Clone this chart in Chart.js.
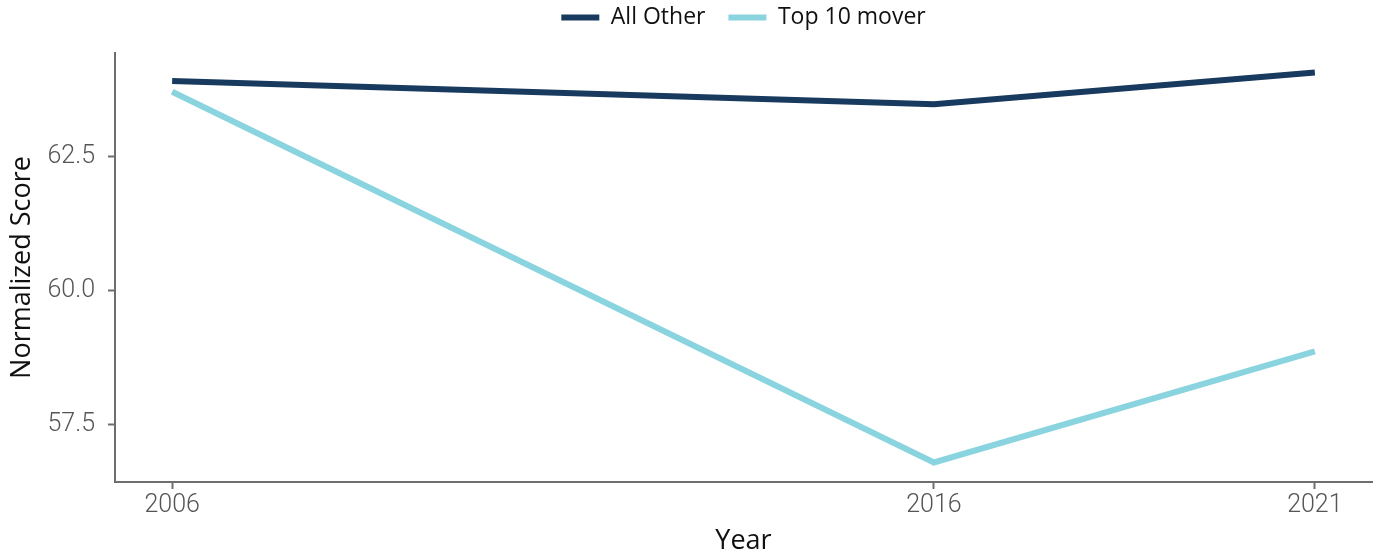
<!DOCTYPE html>
<html>
<head>
<meta charset="utf-8">
<script src="https://cdn.jsdelivr.net/npm/chart.js@4"></script>
<style>
  html, body { margin: 0; padding: 0; background: #ffffff; }
  #wrap { width: 1380px; height: 558px; position: relative; }
</style>
</head>
<body>
<div id="wrap"><canvas id="c" width="1380" height="558"></canvas></div>
<script>
// ---- data ----
const years = [2006, 2016, 2021];
const allOther = [63.91, 63.48, 64.07];
const top10Mover = [63.71, 56.80, 58.87];
const seriesNames = ["All Other", "Top 10 mover"];
const seriesColors = ["#173a5e", "#8ad4df"];
const xTickValues = [2006, 2016, 2021];
const yTickValues = [57.5, 60.0, 62.5];
const xTitle = "Year";
const yTitle = "Normalized Score";

// ggplot-style 5% expansion of the data range
const allY = allOther.concat(top10Mover);
const yLo = Math.min(...allY), yHi = Math.max(...allY);
const yPad = (yHi - yLo) * 0.05;
const xLo = Math.min(...years), xHi = Math.max(...years);
const xPad = (xHi - xLo) * 0.05;

const axisGrey = "#6e6e6e";
const tickFont = { family: "Roboto", size: 25, weight: "300" };
const titleFont = { family: "'Open Sans'", size: 27 };

const layoutPlugin = {
  id: "fixLayout",
  afterInit(chart) {
    const lg = chart.legend;
    if (lg) {
      const origFit = lg.fit.bind(lg);
      lg.fit = function () { origFit(); this.height = 70; };
    }
  }
};

new Chart(document.getElementById("c"), {
  type: "line",
  data: {
    datasets: [
      {
        label: seriesNames[0],
        data: years.map((y, i) => ({ x: y, y: allOther[i] })),
        borderColor: seriesColors[0],
        backgroundColor: seriesColors[0],
        borderWidth: 6,
        pointRadius: 0,
        tension: 0,
        fill: false
      },
      {
        label: seriesNames[1],
        data: years.map((y, i) => ({ x: y, y: top10Mover[i] })),
        borderColor: seriesColors[1],
        backgroundColor: seriesColors[1],
        borderWidth: 6,
        pointRadius: 0,
        tension: 0,
        fill: false
      }
    ]
  },
  options: {
    responsive: false,
    animation: false,
    events: [],
    layout: { padding: { top: -17, left: 0, right: 8, bottom: 0 } },
    plugins: {
      tooltip: { enabled: false },
      legend: {
        position: "top",
        fullSize: false,
        align: "center",
        labels: {
          font: { family: "'Open Sans'", size: 23 },
          color: "#111111",
          boxWidth: 38,
          boxHeight: 6,
          padding: 23,
          generateLabels(chart) {
            return Chart.defaults.plugins.legend.labels.generateLabels(chart).map(l => ({
              ...l, lineWidth: 0, fillStyle: l.strokeStyle
            }));
          }
        }
      }
    },
    scales: {
      x: {
        type: "linear",
        min: xLo - xPad,
        max: xHi + xPad,
        afterBuildTicks(scale) { scale.ticks = xTickValues.map(v => ({ value: v })); },
        afterFit(scale) { scale.height = 76; },
        ticks: {
          font: tickFont,
          color: "#555555",
          padding: 2,
          maxRotation: 0,
          autoSkip: false,
          callback: v => String(v)
        },
        grid: {
          drawOnChartArea: false,
          drawTicks: true,
          tickLength: 7,
          tickColor: axisGrey,
          tickWidth: 2
        },
        border: { display: true, color: axisGrey, width: 2 },
        title: {
          display: true,
          text: xTitle,
          font: titleFont,
          color: "#111111",
          padding: { top: 0, bottom: 0 }
        }
      },
      y: {
        type: "linear",
        min: yLo - yPad,
        max: yHi + yPad,
        afterBuildTicks(scale) { scale.ticks = yTickValues.map(v => ({ value: v })); },
        afterFit(scale) { scale.width = 115; },
        ticks: {
          font: tickFont,
          color: "#555555",
          padding: 13,
          autoSkip: false,
          callback: v => Number(v).toFixed(1)
        },
        grid: {
          drawOnChartArea: false,
          drawTicks: true,
          tickLength: 7,
          tickColor: axisGrey,
          tickWidth: 2
        },
        border: { display: true, color: axisGrey, width: 2 },
        title: {
          display: true,
          text: yTitle,
          font: titleFont,
          color: "#111111",
          padding: { top: 6, bottom: 0 }
        }
      }
    }
  },
  plugins: [layoutPlugin]
});
</script>
</body>
</html>
